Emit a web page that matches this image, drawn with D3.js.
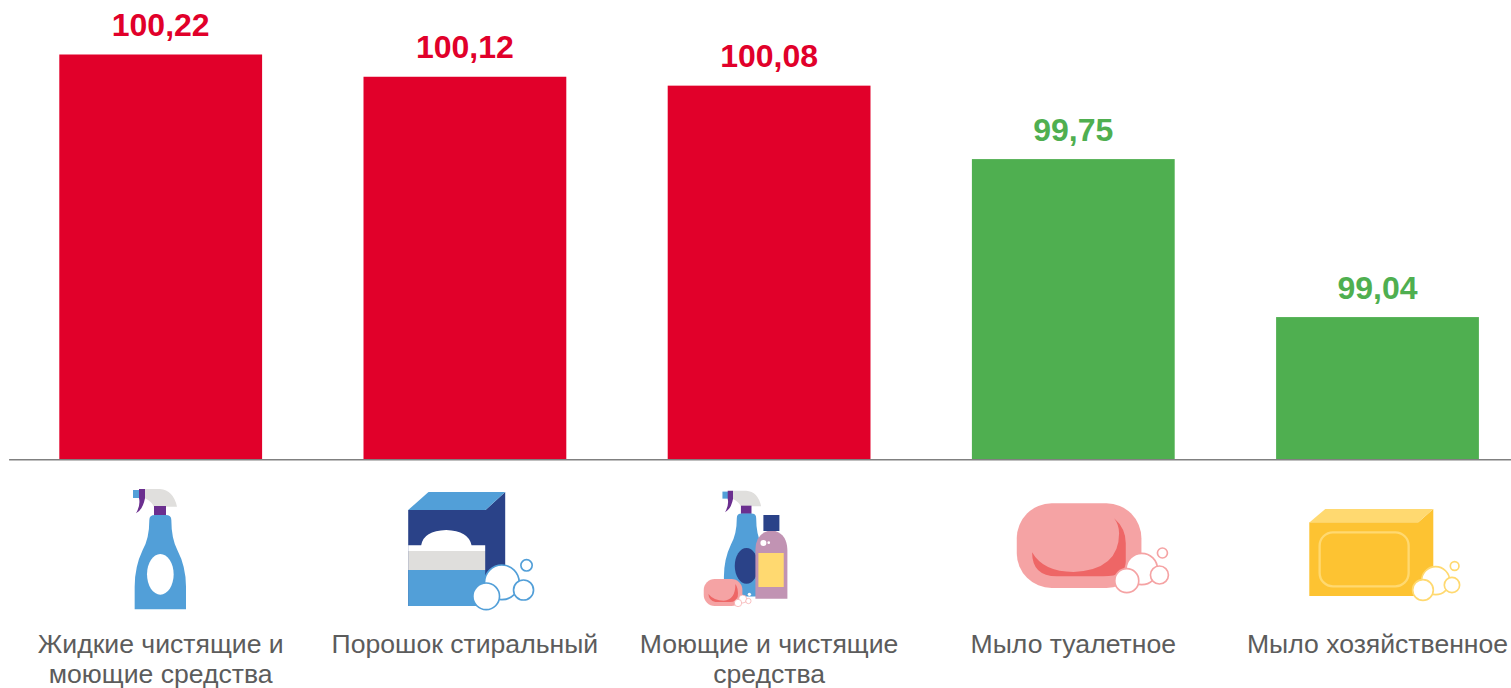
<!DOCTYPE html>
<html>
<head>
<meta charset="utf-8">
<script src="https://cdn.jsdelivr.net/npm/d3@7"></script>
<style>
    html, body { margin: 0; padding: 0; background: #fff; overflow: hidden; }
    svg { display: block; }
    text { font-family: "Liberation Sans", Arial, sans-serif; }
</style>
</head>
<body>
<div id="container"></div>
<script>
const categories = [
    "Жидкие чистящие и моющие средства",
    "Порошок стиральный",
    "Моющие и чистящие средства",
    "Мыло туалетное",
    "Мыло хозяйственное"
]
const values = [100.22, 100.12, 100.08, 99.75, 99.04]
const labelLines = [
    ["Жидкие чистящие и", "моющие средства"],
    ["Порошок стиральный"],
    ["Моющие и чистящие", "средства"],
    ["Мыло туалетное"],
    ["Мыло хозяйственное"]
]
const iconNames = ["spray", "powder", "cleaners", "soap", "laundry"]

const RED = "#e1002a"
const GREEN = "#4faf50"
const BLUE = "#529fd8"
const NAVY = "#2a4288"
const PURPLE = "#6b2f8f"
const GREY = "#e0dfdd"
const PINK = "#f5a3a4"
const CORAL = "#ee6666"
const YELLOW = "#fdc332"
const PALE = "#ffd970"

const width = 1511
const height = 688
const baseline = 459.5

const svg = d3.select("#container")
    .append("svg")
    .attr("width", width)
    .attr("height", height)

const x = d3.scaleBand()
    .domain(categories)
    .range([8.6, 1529.6])
    .paddingInner(1 / 3)
    .paddingOuter(1 / 6)

const y = d3.scaleLinear()
    .domain([98.4, 100.22])
    .range([baseline, 54.5])

/* BARS */
svg.selectAll(".bar")
    .data(values)
    .join("rect")
    .attr("class", "bar")
    .attr("x", (d, i) => x(categories[i]))
    .attr("y", d => y(d))
    .attr("width", x.bandwidth())
    .attr("height", d => baseline - y(d))
    .attr("fill", d => d > 100 ? RED : GREEN)

/* VALUE LABELS */
svg.selectAll(".value")
    .data(values)
    .join("text")
    .attr("class", "value")
    .attr("x", (d, i) => x(categories[i]) + x.bandwidth() / 2)
    .attr("y", d => y(d) - 18.5)
    .attr("text-anchor", "middle")
    .attr("font-size", 32)
    .attr("font-weight", 700)
    .attr("fill", d => d > 100 ? RED : GREEN)
    .text(d => d.toFixed(2).replace(".", ","))

/* X AXIS */
const axis = svg.append("g")
    .attr("class", "x-axis")
    .attr("transform", "translate(0, 459.3)")
    .call(d3.axisBottom(x).tickSize(0).tickSizeOuter(0).tickFormat(""))

axis.select(".domain")
    .attr("stroke", "#808080")
    .attr("stroke-width", 1.5)

axis.selectAll(".tick text").remove()

axis.selectAll(".tick")
    .append("text")
    .attr("text-anchor", "middle")
    .attr("font-size", 26.6)
    .attr("fill", "#5c5c5c")
    .selectAll("tspan")
    .data((d, i) => labelLines[i])
    .join("tspan")
    .attr("x", 0)
    .attr("y", (d, i) => 193.7 + i * 30)
    .text(d => d)

/* ICONS, paths are in 3x pixels around the icon frame */
function circles(g, list, stroke, sw) {
    list.forEach(c => {
        g.append("circle")
            .attr("cx", c[0]).attr("cy", c[1]).attr("r", c[2])
            .attr("fill", "#fff")
            .attr("stroke", stroke)
            .attr("stroke-width", sw)
    })
}

function sprayBottle(g, oval) {
    g.append("rect").attr("x", 99).attr("y", 60).attr("width", 20).attr("height", 24).attr("fill", BLUE)
    g.append("path").attr("fill", GREY)
        .attr("d", "M135 57 H180 Q220 60 231 110 H162 Q155 95 135 85 Z")
    g.append("path").attr("fill", PURPLE)
        .attr("d", "M117 57 H135 V85 Q128 120 108 130 Q122 105 117 85 Z")
    g.append("rect").attr("x", 162).attr("y", 108).attr("width", 36).attr("height", 28).attr("fill", PURPLE)
    g.append("path").attr("fill", BLUE)
        .attr("d", "M148 150 Q148 135 165 135 H197 Q214 135 214 150 Q214 205 232 240 Q258 290 258 350 V418 H104 V350 Q104 290 128 240 Q148 205 148 150 Z")
    g.append("ellipse").attr("cx", 181).attr("cy", 313).attr("rx", 40).attr("ry", 61).attr("fill", oval)
}

const icons = {
    spray: { dx: -60.7, dy: 470, draw: g => sprayBottle(g, "#fff") },
    powder: {
        dx: -364.7, dy: 470,
        draw: g => {
            g.append("path").attr("fill", NAVY)
                .attr("d", "M924 120 H1156 L1215 66 V310 L1156 370 V408 H924 Z")
            g.append("path").attr("fill", BLUE).attr("d", "M924 120 L985 66 H1215 L1156 120 Z")
            g.append("path").attr("fill", "#fff")
                .attr("d", "M963 226 Q970 182 1038 180 Q1105 182 1114 226 H1155 V243 H924 V226 Z")
            g.append("rect").attr("x", 924).attr("y", 243).attr("width", 231).attr("height", 57).attr("fill", "#dfdedc")
            g.append("rect").attr("x", 924).attr("y", 300).attr("width", 231).attr("height", 108).attr("fill", BLUE)
            circles(g, [[1205, 337, 52], [1158, 379, 40], [1270, 360, 30], [1279, 286, 17]], BLUE, 5)
        }
    },
    cleaners: {
        dx: -88.7, dy: 470,
        draw: g => {
            sprayBottle(g.append("g").attr("transform", "translate(39, 12) scale(0.88)"), NAVY)
            g.append("path").attr("fill", "#c193b3")
                .attr("d", "M225 386 V240 Q225 195 262 183 H285 Q320 195 321 240 V386 Z")
            g.append("rect").attr("x", 249).attr("y", 135).attr("width", 48).attr("height", 48).attr("fill", NAVY)
            g.append("rect").attr("x", 234).attr("y", 249).attr("width", 76).attr("height", 102).attr("fill", PALE)
            g.append("circle").attr("cx", 249).attr("cy", 219).attr("r", 9).attr("fill", "#fff")
            g.append("circle").attr("cx", 265).attr("cy", 218).attr("r", 4).attr("fill", "#fff")
            g.append("rect").attr("x", 70).attr("y", 327).attr("width", 116).attr("height", 81).attr("rx", 33).attr("fill", PINK)
            g.append("path").attr("fill", CORAL)
                .attr("d", "M84 372 Q100 392 130 392 Q165 390 165 342 Q175 355 172 380 Q165 396 150 396 H105 Q85 392 84 372 Z")
            circles(g, [[187, 387, 12], [173, 399, 11], [204, 393, 8]], PINK, 2)
            g.append("circle").attr("cx", 207).attr("cy", 373).attr("r", 5).attr("fill", "#fff")
        }
    },
    soap: {
        dx: -73.2, dy: 490,
        draw: g => {
            g.append("rect").attr("x", 50).attr("y", 40).attr("width", 374).attr("height", 254).attr("rx", 105).attr("fill", PINK)
            g.append("path").attr("fill", CORAL)
                .attr("d", "M96 187 Q130 246 220 246 Q357 240 357 130 Q357 105 342 85 Q377 115 377 160 V215 Q377 258 310 259 H170 Q96 259 96 187 Z")
            circles(g, [[425, 237, 47], [380, 272, 36], [478, 255, 27], [487, 189, 15]], PINK, 5)
        }
    },
    laundry: {
        dx: -377.2, dy: 490,
        draw: g => {
            g.append("path").attr("fill", YELLOW)
                .attr("d", "M927 97 H1254 L1299 57 V290 H1254 V318 H927 Z")
            g.append("path").attr("fill", PALE).attr("d", "M928 97 L975 57 H1299 L1254 97 Z")
            g.append("rect").attr("x", 958).attr("y", 127).attr("width", 267).attr("height", 162).attr("rx", 40)
                .attr("fill", "none").attr("stroke", PALE).attr("stroke-width", 7)
            circles(g, [[1306, 272, 42], [1268, 300, 31], [1355, 285, 23], [1363, 228, 13]], PALE, 5)
        }
    }
}

iconNames.forEach((name, i) => {
    const icon = icons[name]
    const cx = x(categories[i]) + x.bandwidth() / 2
    const g = svg.append("g")
        .attr("class", "icon")
        .attr("transform", `translate(${cx + icon.dx}, ${icon.dy}) scale(${1 / 3})`)
    icon.draw(g)
})
</script>
</body>
</html>
